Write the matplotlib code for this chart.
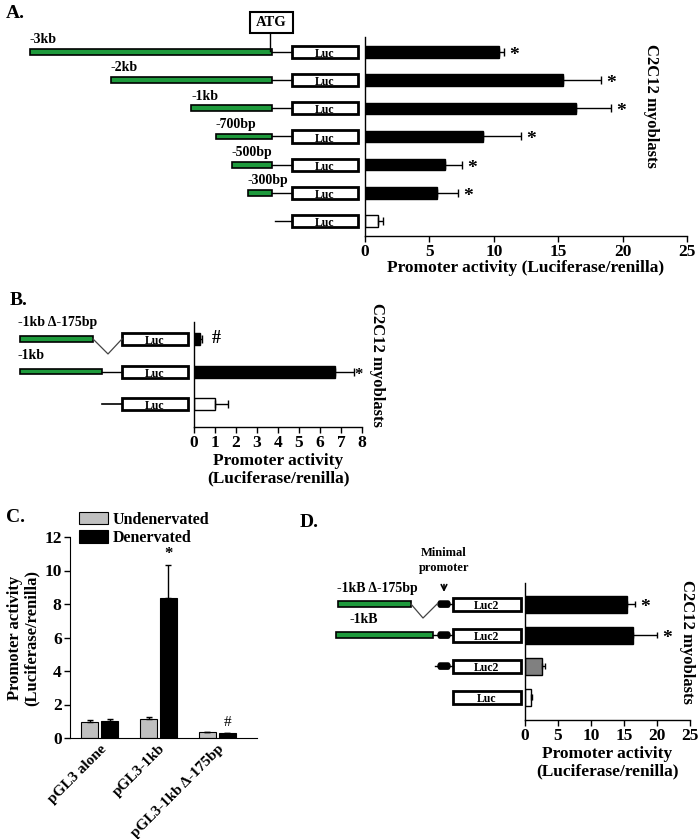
import matplotlib
matplotlib.use("Agg")
import matplotlib.pyplot as plt
from matplotlib.patches import Rectangle, FancyBboxPatch
import matplotlib.transforms as mtransforms
import numpy as np

plt.rcParams['font.family'] = ['Liberation Serif', 'DejaVu Serif']
plt.rcParams['font.weight'] = 'bold'

# ---------------- DATA ----------------
# Panel A
a_constructs = ['-3kb', '-2kb', '-1kb', '-700bp', '-500bp', '-300bp', '']
a_lengths_bp = [3000, 2000, 1000, 700, 500, 300, 0]
a_values = [10.4, 15.4, 16.4, 9.2, 6.2, 5.6, 1.0]
a_errors = [0.4, 2.9, 2.7, 2.9, 1.3, 1.6, 0.4]
a_marks = ['*', '*', '*', '*', '*', '*', '']
a_colors = ['black'] * 6 + ['white']
a_ticks = [0, 5, 10, 15, 20, 25]

# Panel B
b_constructs = ['-1kb \u0394-175bp', '-1kb', '']
b_values = [0.3, 6.7, 1.0]
b_errors = [0.1, 0.9, 0.6]
b_marks = ['#', '*', '']
b_colors = ['black', 'black', 'white']
b_ticks = [0, 1, 2, 3, 4, 5, 6, 7, 8]

# Panel C
c_groups = ['pGL3 alone', 'pGL3-1kb', 'pGL3-1kb \u0394-175bp']
c_undenervated = [0.97, 1.11, 0.38]
c_undenervated_err = [0.1, 0.15, 0.0]
c_denervated = [1.02, 8.35, 0.28]
c_denervated_err = [0.1, 1.95, 0.0]
c_marks_den = ['', '*', '#']
c_ticks = [0, 2, 4, 6, 8, 10, 12]

# Panel D
d_constructs = ['-1kB \u0394-175bp', '-1kB', '', '']
d_box_labels = ['Luc2', 'Luc2', 'Luc2', 'Luc']
d_values = [15.4, 16.4, 2.6, 0.9]
d_errors = [1.3, 3.6, 0.4, 0.15]
d_marks = ['*', '*', '', '']
d_colors = ['black', 'black', '#808080', 'white']
d_ticks = [0, 5, 10, 15, 20, 25]

GREEN = '#1e9a3c'
W, H = 700, 839
fig = plt.figure(figsize=(W / 100, H / 100), dpi=100)


def rect(l, t, r, b):
    return [l / W, 1 - b / H, (r - l) / W, (b - t) / H]


def style_hbar_axes(ax, ticks, xmax):
    for s in ['top', 'right']:
        ax.spines[s].set_visible(False)
    ax.spines['left'].set_linewidth(1.0)
    ax.spines['bottom'].set_linewidth(1.0)
    ax.set_xlim(0, xmax)
    ax.set_xticks(ticks)
    ax.set_yticks([])
    ax.tick_params(axis='x', direction='out', length=4, width=1, labelsize=12.5, pad=2)
    for lab in ax.get_xticklabels():
        lab.set_fontweight('bold')


def green_bar(ax, x0, x1, y, h):
    ax.add_patch(Rectangle((x0, y - h / 2), x1 - x0, h, facecolor=GREEN,
                           edgecolor='black', lw=1.2, clip_on=False))


def luc_box(ax, x0, x1, y, h, label, fs=8.5):
    ax.add_patch(Rectangle((x0, y - h / 2), x1 - x0, h, facecolor='white',
                           edgecolor='black', lw=2.0, clip_on=False))
    ax.text((x0 + x1) / 2, y + h * 0.18, label, ha='center', va='center',
            fontsize=fs, fontweight='bold', clip_on=False)


def vlabel(x, y, s):
    fig.text(x / W, 1 - y / H, s, rotation=-90, ha='center', va='center',
             fontsize=12, fontweight='bold')


# ================= Panel A =================
axA = fig.add_axes(rect(365, 37, 687, 236))
ya = np.arange(len(a_values))
axA.barh(ya, a_values, height=0.4, color=a_colors, edgecolor='black', lw=1)
axA.errorbar(a_values, ya, xerr=[np.zeros(len(a_values)), a_errors], fmt='none',
             ecolor='black', elinewidth=1, capsize=3, capthick=1)
for y, v, e, m in zip(ya, a_values, a_errors, a_marks):
    if m:
        axA.text(v + e + 0.4, y + 0.12, m, ha='left', va='center', fontsize=14, fontweight='bold')
axA.set_ylim(len(a_values) - 1 + 0.53, -0.53)
style_hbar_axes(axA, a_ticks, 25)
axA.set_xlabel('Promoter activity (Luciferase/renilla)', fontsize=12.5, fontweight='bold', labelpad=0)
vlabel(651, 106, 'C2C12 myoblasts')

dA = fig.add_axes(rect(0, 37, 365, 236), sharey=axA)
dA.set_xlim(0, 365)
dA.axis('off')
scaleA = 242 / 3000.0
for y, name, L in zip(ya, a_constructs, a_lengths_bp):
    luc_box(dA, 292, 358, y, 0.43, 'Luc')
    if L > 0:
        x0 = 272 - L * scaleA
        dA.plot([272, 292], [y, y], color='black', lw=1)
        green_bar(dA, x0, 272, y, 0.2)
        dA.text(x0, y - 0.2, name, ha='left', va='bottom', fontsize=10, fontweight='bold')
    else:
        dA.plot([275, 292], [y, y], color='black', lw=1)
# ATG marker
dA.add_patch(Rectangle((250, -1.42), 43, 0.75, facecolor='white', edgecolor='black',
                       lw=1.5, clip_on=False))
dA.text(271.5, -1.03, 'ATG', ha='center', va='center', fontsize=10.5, fontweight='bold')
dA.plot([270, 270], [-0.67, -0.05], color='black', lw=1, clip_on=False)
fig.text(6 / W, 1 - 18 / H, 'A.', fontsize=14, fontweight='bold', ha='left', va='baseline')

# ================= Panel B =================
axB = fig.add_axes(rect(194, 322, 362, 427))
yb = np.arange(len(b_values))
axB.barh(yb, b_values, height=0.37, color=b_colors, edgecolor='black', lw=1)
axB.errorbar(b_values, yb, xerr=[np.zeros(len(b_values)), b_errors], fmt='none',
             ecolor='black', elinewidth=1, capsize=3, capthick=1)
for y, v, e, m in zip(yb, b_values, b_errors, b_marks):
    if m == '#':
        axB.text(v + e + 0.45, y, m, ha='left', va='center', fontsize=13, fontweight='bold')
    elif m:
        axB.text(v + e + 0.05, y + 0.12, m, ha='left', va='center', fontsize=12, fontweight='bold')
axB.set_ylim(len(b_values) - 1 + 0.7, -0.52)
style_hbar_axes(axB, b_ticks, 8)
axB.set_xlabel('Promoter activity\n(Luciferase/renilla)', fontsize=12.5, fontweight='bold',
               labelpad=1, linespacing=1.1)
vlabel(377, 365, 'C2C12 myoblasts')

dB = fig.add_axes(rect(0, 322, 194, 427), sharey=axB)
dB.set_xlim(0, 194)
dB.axis('off')
for y in yb:
    luc_box(dB, 122, 188, y, 0.37, 'Luc')
green_bar(dB, 20, 93, 0, 0.16)
dB.plot([93, 108, 122], [0, 0.46, 0], color='#444444', lw=0.9)
green_bar(dB, 20, 102, 1, 0.16)
dB.plot([102, 122], [1, 1], color='black', lw=1)
dB.plot([102, 122], [2, 2], color='black', lw=1.2)
for y, name in zip(yb, b_constructs):
    if name:
        dB.text(18, y - 0.3, name, ha='left', va='bottom', fontsize=10, fontweight='bold')
fig.text(10 / W, 1 - 305 / H, 'B.', fontsize=14, fontweight='bold', ha='left', va='baseline')

# ================= Panel C =================
axC = fig.add_axes(rect(70, 537, 257, 738))
xc = np.arange(len(c_groups))
bw = 0.29
axC.bar(xc - 0.17, c_undenervated, width=bw, color='#c0c0c0', edgecolor='black', lw=0.8,
        label='Undenervated')
axC.bar(xc + 0.17, c_denervated, width=bw, color='black', edgecolor='black', lw=0.8,
        label='Denervated')
axC.errorbar(xc - 0.17, c_undenervated, yerr=[np.zeros(3), c_undenervated_err], fmt='none',
             ecolor='black', elinewidth=1, capsize=2.5, capthick=1)
axC.errorbar(xc + 0.17, c_denervated, yerr=[np.zeros(3), c_denervated_err], fmt='none',
             ecolor='black', elinewidth=1, capsize=2.5, capthick=1)
for x, v, e, m in zip(xc, c_denervated, c_denervated_err, c_marks_den):
    if m == '*':
        axC.text(x + 0.17, v + e + 0.2, m, ha='center', va='bottom', fontsize=12, fontweight='bold')
    elif m:
        axC.text(x + 0.17, v + e + 0.25, m, ha='center', va='bottom', fontsize=11, fontweight='normal')
axC.set_xlim(-0.51, 2.68)
axC.set_ylim(0, 12)
for s in ['top', 'right']:
    axC.spines[s].set_visible(False)
axC.set_yticks(c_ticks)
axC.set_xticks(xc)
axC.set_xticklabels(c_groups, rotation=45, ha='right', rotation_mode='anchor',
                    fontsize=11, fontweight='bold')
label_shift_px = [7, 3, -17]
for lab, dx in zip(axC.get_xticklabels(), label_shift_px):
    off = mtransforms.ScaledTranslation(dx / 100, 0, fig.dpi_scale_trans)
    lab.set_transform(lab.get_transform() + off)
axC.tick_params(axis='x', length=0, pad=3)
axC.tick_params(axis='y', direction='out', length=4, width=1, labelsize=12.5, pad=2)
for lab in axC.get_yticklabels():
    lab.set_fontweight('bold')
axC.set_ylabel('Promoter activity\n(Luciferase/renilla)', fontsize=12, fontweight='bold',
               labelpad=3, linespacing=1.1)
leg = axC.legend(loc='lower left', bbox_to_anchor=(0.05, 0.955), frameon=False,
                 fontsize=11.5, handlelength=1.8, handleheight=0.85, handletextpad=0.3,
                 labelspacing=0.15, borderaxespad=0, borderpad=0)
for t in leg.get_texts():
    t.set_fontweight('bold')
fig.text(6 / W, 1 - 522 / H, 'C.', fontsize=14, fontweight='bold', ha='left', va='baseline')

# ================= Panel D =================
axD = fig.add_axes(rect(525, 583, 690, 720))
yd = np.arange(len(d_values))
axD.barh(yd, d_values, height=0.55, color=d_colors, edgecolor='black', lw=1)
axD.errorbar(d_values, yd, xerr=[np.zeros(len(d_values)), d_errors], fmt='none',
             ecolor='black', elinewidth=1, capsize=2.5, capthick=1)
for y, v, e, m in zip(yd, d_values, d_errors, d_marks):
    if m:
        axD.text(v + e + 0.8, y + 0.12, m, ha='left', va='center', fontsize=14, fontweight='bold')
axD.set_ylim(len(d_values) - 1 + 0.74, -0.68)
style_hbar_axes(axD, d_ticks, 25)
axD.set_xlabel('Promoter activity\n(Luciferase/renilla)', fontsize=12.5, fontweight='bold',
               labelpad=1, linespacing=1.1)
vlabel(687, 642, 'C2C12 myoblasts')

dD = fig.add_axes(rect(290, 583, 525, 720), sharey=axD)
dD.set_xlim(290, 525)
dD.axis('off')
for y, lab in zip(yd, d_box_labels):
    luc_box(dD, 453, 521, y, 0.42, lab, fs=8.5)


def min_prom(ax, y):
    ax.add_patch(FancyBboxPatch((438, y - 0.1), 12, 0.2, boxstyle='round,pad=0,rounding_size=2',
                                facecolor='black', edgecolor='black', lw=1, clip_on=False,
                                mutation_aspect=0.05))
    ax.plot([450, 453], [y, y], color='black', lw=1)


green_bar(dD, 338, 411, 0, 0.17)
dD.plot([411, 423, 437], [0, 0.45, 0], color='#444444', lw=0.9)
min_prom(dD, 0)
green_bar(dD, 336, 433, 1, 0.17)
dD.plot([433, 438], [1, 1], color='black', lw=1)
min_prom(dD, 1)
dD.plot([435, 438], [2, 2], color='black', lw=1)
min_prom(dD, 2)
dD.text(337, 0 - 0.3, d_constructs[0], ha='left', va='bottom', fontsize=10, fontweight='bold')
dD.text(350, 1 - 0.3, d_constructs[1], ha='left', va='bottom', fontsize=10, fontweight='bold')
dD.text(444, -0.98, 'Minimal\npromoter', ha='center', va='bottom', fontsize=9,
        fontweight='bold', linespacing=1.25)
dD.annotate('', xy=(444, -0.3), xytext=(444, -0.72),
            arrowprops=dict(arrowstyle='->', color='black', lw=1.2, mutation_scale=10))
fig.text(300 / W, 1 - 527 / H, 'D.', fontsize=14, fontweight='bold', ha='left', va='baseline')

fig.savefig('out.png', dpi=100, facecolor='white')
